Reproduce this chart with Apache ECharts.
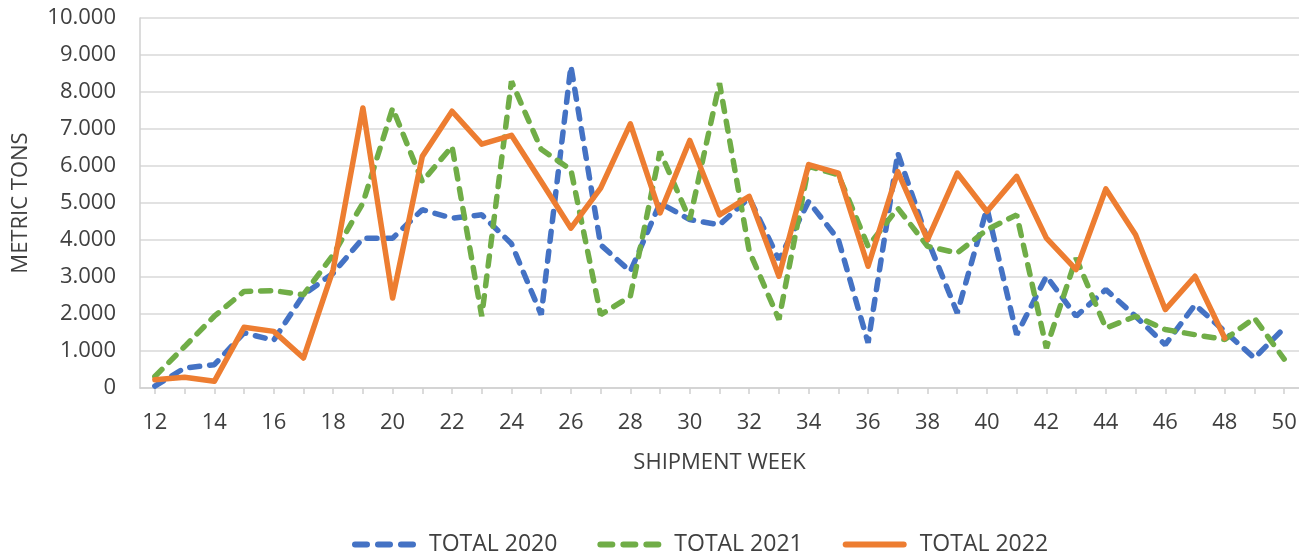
<!DOCTYPE html>
<html>
<head>
<meta charset="utf-8">
<script src="https://cdn.jsdelivr.net/npm/echarts@6/dist/echarts.min.js"></script>
<style>html,body{margin:0;padding:0;background:#fff}#c{width:1299px;height:556px}</style>
</head>
<body>
<div id="c"></div>
<script>
const weeks = [12,13,14,15,16,17,18,19,20,21,22,23,24,25,26,27,28,29,30,31,32,33,34,35,36,37,38,39,40,41,42,43,44,45,46,47,48,49,50];
const total2020 = [50,540,630,1490,1290,2520,3100,4050,4050,4820,4590,4680,3900,1980,8700,3870,3150,5000,4550,4410,5140,3470,5040,4010,1220,6350,4010,2030,4860,1440,3020,1940,2660,1940,1170,2250,1530,810,1620];
const total2021 = [310,1120,1940,2610,2630,2520,3600,5000,7560,5580,6530,1940,8290,6450,5900,1980,2480,6390,4550,8240,3700,1850,5990,5760,3830,4860,3830,3650,4280,4680,1080,3510,1620,1940,1580,1440,1310,1890,780];
const total2022 = [220,290,180,1640,1530,810,3200,7570,2430,6260,7480,6590,6830,5580,4320,5400,7140,4730,6690,4680,5180,3020,6040,5810,3290,5850,4010,5810,4770,5720,4050,3200,5380,4140,2120,3020,1350,null,null];
const seriesNames = ['TOTAL 2020','TOTAL 2021','TOTAL 2022'];

const FONT = '"Open Sans", sans-serif';
const TXT = '#404040';
const chart = echarts.init(document.getElementById('c'));
function fmt(v){ return String(v).replace(/\B(?=(\d{3})+(?!\d))/g, '.'); }
const dash = {type:[10,10], cap:'round', width:5.5};
const dashIcon = 'path://M3,0h12a3,3 0 0 1 0,6h-12a3,3 0 0 1 0,-6z M26,0h12a3,3 0 0 1 0,6h-12a3,3 0 0 1 0,-6z M49,0h12a3,3 0 0 1 0,6h-12a3,3 0 0 1 0,-6z';
const solidIcon = 'path://M3,0h58a3,3 0 0 1 0,6h-58a3,3 0 0 1 0,-6z';
chart.setOption({
  animation:false,
  grid:{left:140, right:0, top:18, bottom:168, containLabel:false, outerBoundsMode:'none'},
  legend:{
    bottom:-5, left:347, itemWidth:64, itemHeight:6, itemGap:40,
    textStyle:{color:TXT, fontFamily:FONT, fontSize:23, padding:[0,0,0,8]},
    data:[
      {name:seriesNames[0], icon:dashIcon, itemStyle:{color:'#4472C4'}},
      {name:seriesNames[1], icon:dashIcon, itemStyle:{color:'#70AD47'}},
      {name:seriesNames[2], icon:solidIcon, itemStyle:{color:'#ED7D31'}}
    ]
  },
  xAxis:{
    type:'category', data:weeks, boundaryGap:true,
    name:'SHIPMENT WEEK', nameLocation:'middle', nameGap:64,
    nameTextStyle:{color:TXT, fontFamily:FONT, fontSize:22},
    axisLine:{lineStyle:{color:'#d0d0d0', width:1.5}},
    axisTick:{show:true, alignWithLabel:true, interval:0, length:6, lineStyle:{color:'#d0d0d0', width:1.5}},
    axisLabel:{interval:1, color:TXT, fontFamily:FONT, fontSize:22, margin:24}
  },
  yAxis:{
    type:'value', min:0, max:10000, interval:1000,
    name:'METRIC TONS', nameLocation:'middle', nameGap:108, nameRotate:90,
    nameTextStyle:{color:TXT, fontFamily:FONT, fontSize:22},
    axisLine:{show:true, lineStyle:{color:'#d0d0d0', width:1.5}},
    axisTick:{show:false},
    splitLine:{lineStyle:{color:'#d9d9d9', width:1.5}},
    axisLabel:{color:TXT, fontFamily:FONT, fontSize:22, margin:24, formatter:v=>fmt(v)}
  },
  series:[
    {name:seriesNames[0], type:'line', data:total2020, showSymbol:false, symbol:'none', color:'#4472C4',
     lineStyle:Object.assign({color:'#4472C4'}, dash), z:2},
    {name:seriesNames[1], type:'line', data:total2021, showSymbol:false, symbol:'none', color:'#70AD47',
     lineStyle:Object.assign({color:'#70AD47'}, dash), z:3},
    {name:seriesNames[2], type:'line', data:total2022, showSymbol:false, symbol:'none', color:'#ED7D31',
     lineStyle:{color:'#ED7D31', width:5.5, type:'solid', cap:'round', join:'round'}, z:4}
  ]
});
</script>
</body>
</html>
